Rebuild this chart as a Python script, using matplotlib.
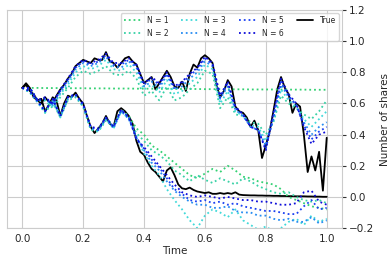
# shares held over time: true path vs. N-term approximations
import matplotlib
matplotlib.use("Agg")
import matplotlib.pyplot as plt
import numpy as np
import seaborn as sns

# time grids
t_true = np.linspace(0, 1, 81)
t_est = np.linspace(0, 1, 41)

# true paths
true_a = [0.70, 0.73, 0.70, 0.64, 0.62, 0.60, 0.64, 0.61, 0.60, 0.65,
          0.69, 0.72, 0.76, 0.79, 0.84, 0.86, 0.88, 0.87, 0.86, 0.89,
          0.88, 0.88, 0.93, 0.87, 0.86, 0.83, 0.86, 0.89, 0.90, 0.87,
          0.85, 0.79, 0.73, 0.75, 0.77, 0.69, 0.73, 0.77, 0.81, 0.77,
          0.71, 0.70, 0.74, 0.68, 0.79, 0.85, 0.83, 0.89, 0.91, 0.89,
          0.86, 0.72, 0.64, 0.68, 0.75, 0.71, 0.58, 0.55, 0.54, 0.51,
          0.45, 0.49, 0.43, 0.25, 0.33, 0.42, 0.55, 0.69, 0.77, 0.70,
          0.66, 0.54, 0.60, 0.58, 0.40, 0.16, 0.26, 0.17, 0.29, 0.04,
          0.38]
true_b = [0.70, 0.72, 0.68, 0.66, 0.62, 0.63, 0.55, 0.59, 0.64, 0.62,
          0.52, 0.60, 0.65, 0.64, 0.67, 0.63, 0.60, 0.52, 0.45, 0.41,
          0.44, 0.47, 0.52, 0.47, 0.45, 0.55, 0.57, 0.55, 0.52, 0.47,
          0.36, 0.29, 0.27, 0.22, 0.18, 0.16, 0.13, 0.10, 0.17, 0.19,
          0.14, 0.08, 0.055, 0.05, 0.06, 0.045, 0.035, 0.03, 0.025, 0.03,
          0.02, 0.02, 0.025, 0.02, 0.025, 0.02, 0.03, 0.015, 0.012, 0.011,
          0.010, 0.010, 0.009, 0.009, 0.008, 0.008, 0.007, 0.007, 0.006, 0.006,
          0.005, 0.005, 0.004, 0.004, 0.004, 0.003, 0.003, 0.002, 0.002, 0.001,
          0.001]

# approximations, path a (upper)
est_a = {
    1: [0.700, 0.700, 0.700, 0.699, 0.699, 0.699, 0.698, 0.698, 0.698, 0.697,
        0.697, 0.697, 0.696, 0.696, 0.696, 0.695, 0.695, 0.695, 0.694, 0.694,
        0.694, 0.693, 0.693, 0.693, 0.692, 0.692, 0.692, 0.691, 0.691, 0.691,
        0.690, 0.690, 0.690, 0.690, 0.689, 0.689, 0.689, 0.689, 0.688, 0.688,
        0.688],
    2: [0.70, 0.70, 0.62, 0.62, 0.57, 0.64, 0.70, 0.77, 0.81, 0.79, 0.81,
        0.84, 0.79, 0.78, 0.81, 0.76, 0.65, 0.68, 0.62, 0.71, 0.62, 0.64,
        0.69, 0.73, 0.81, 0.79, 0.57, 0.64, 0.53, 0.52, 0.48, 0.47, 0.40,
        0.48, 0.65, 0.60, 0.57, 0.53, 0.50, 0.55, 0.62],
    3: [0.70, 0.70, 0.62, 0.62, 0.58, 0.66, 0.72, 0.80, 0.84, 0.82, 0.84,
        0.88, 0.82, 0.81, 0.85, 0.80, 0.69, 0.72, 0.67, 0.75, 0.66, 0.68,
        0.73, 0.77, 0.85, 0.82, 0.60, 0.68, 0.55, 0.52, 0.46, 0.45, 0.36,
        0.49, 0.69, 0.62, 0.58, 0.50, 0.45, 0.50, 0.55],
    4: [0.70, 0.70, 0.62, 0.63, 0.59, 0.67, 0.74, 0.82, 0.86, 0.84, 0.86,
        0.90, 0.84, 0.83, 0.87, 0.83, 0.71, 0.74, 0.70, 0.78, 0.69, 0.71,
        0.76, 0.80, 0.87, 0.84, 0.63, 0.71, 0.56, 0.52, 0.45, 0.43, 0.33,
        0.50, 0.72, 0.64, 0.59, 0.48, 0.40, 0.45, 0.48],
    5: [0.70, 0.70, 0.62, 0.63, 0.60, 0.68, 0.75, 0.83, 0.87, 0.85, 0.87,
        0.91, 0.85, 0.85, 0.88, 0.84, 0.72, 0.76, 0.72, 0.79, 0.70, 0.73,
        0.78, 0.82, 0.89, 0.85, 0.64, 0.73, 0.57, 0.53, 0.45, 0.43, 0.31,
        0.52, 0.74, 0.65, 0.59, 0.46, 0.37, 0.42, 0.45],
    6: [0.70, 0.70, 0.62, 0.64, 0.60, 0.69, 0.76, 0.84, 0.88, 0.86, 0.88,
        0.92, 0.86, 0.86, 0.89, 0.85, 0.73, 0.77, 0.73, 0.80, 0.71, 0.74,
        0.79, 0.83, 0.90, 0.86, 0.65, 0.74, 0.58, 0.53, 0.45, 0.43, 0.30,
        0.54, 0.76, 0.66, 0.60, 0.45, 0.34, 0.40, 0.42],
}

# approximations, path b (lower)
est_b = {
    1: [0.70, 0.68, 0.62, 0.55, 0.62, 0.52, 0.63, 0.65, 0.59, 0.44, 0.43,
        0.50, 0.46, 0.56, 0.52, 0.44, 0.40, 0.33, 0.30, 0.26, 0.22, 0.18,
        0.14, 0.12, 0.15, 0.18, 0.16, 0.20, 0.17, 0.13, 0.12, 0.10, 0.09,
        0.08, 0.05, 0.00, -0.02, -0.04, -0.06, -0.07, -0.08],
    2: [0.70, 0.67, 0.61, 0.54, 0.61, 0.51, 0.62, 0.64, 0.58, 0.43, 0.42,
        0.49, 0.45, 0.55, 0.51, 0.41, 0.36, 0.30, 0.27, 0.23, 0.17, 0.14,
        0.10, 0.14, 0.11, 0.09, 0.12, 0.10, 0.08, 0.12, 0.10, 0.07, 0.05,
        0.03, 0.02, 0.03, 0.00, -0.02, -0.03, -0.02, -0.04],
    3: [0.70, 0.67, 0.61, 0.54, 0.62, 0.51, 0.63, 0.65, 0.58, 0.44, 0.42,
        0.50, 0.44, 0.55, 0.50, 0.39, 0.28, 0.20, 0.14, 0.05, -0.02, -0.08,
        -0.15, -0.20, -0.12, -0.08, -0.10, -0.13, -0.08, -0.15, -0.18, -0.21,
        -0.19, -0.22, -0.20, -0.16, -0.14, -0.18, -0.12, -0.16, -0.14],
    4: [0.70, 0.68, 0.61, 0.55, 0.62, 0.52, 0.63, 0.65, 0.59, 0.44, 0.43,
        0.50, 0.44, 0.55, 0.50, 0.38, 0.30, 0.22, 0.17, 0.10, 0.04, 0.00,
        -0.03, -0.05, -0.05, -0.07, -0.07, -0.06, -0.09, -0.10, -0.10, -0.12,
        -0.12, -0.14, -0.15, -0.14, -0.16, -0.16, -0.13, -0.17, -0.15],
    5: [0.70, 0.68, 0.62, 0.55, 0.63, 0.52, 0.64, 0.66, 0.59, 0.45, 0.43,
        0.51, 0.45, 0.56, 0.51, 0.38, 0.31, 0.24, 0.19, 0.12, 0.05, 0.02,
        -0.02, -0.03, -0.02, -0.04, -0.03, -0.05, -0.04, -0.06, -0.07, -0.08,
        -0.09, -0.09, -0.10, -0.11, -0.11, -0.06, -0.02, -0.08, -0.07],
    6: [0.70, 0.68, 0.62, 0.55, 0.63, 0.52, 0.64, 0.66, 0.60, 0.45, 0.44,
        0.51, 0.45, 0.56, 0.51, 0.37, 0.32, 0.26, 0.20, 0.14, 0.08, 0.03,
        0.01, 0.00, 0.01, 0.00, -0.01, 0.00, -0.01, -0.02, -0.02, -0.03,
        -0.03, -0.04, -0.05, -0.05, -0.04, 0.03, 0.04, -0.03, -0.05],
}

colors = {1: (0.20, 0.82, 0.45), 2: (0.22, 0.82, 0.65), 3: (0.25, 0.85, 0.85),
          4: (0.15, 0.55, 0.95), 5: (0.10, 0.25, 0.95), 6: (0.05, 0.05, 0.85)}

sns.set_style("whitegrid")
plt.rcParams['font.family'] = ['DejaVu Sans']

fig = plt.figure(figsize=(3.89, 2.64), dpi=100)
ax = fig.add_axes([0.018, 0.136, 0.861, 0.826])

ax.plot(t_true, true_a, color='black', lw=1.3, zorder=2, label='True')
ax.plot(t_true, true_b, color='black', lw=1.3, zorder=2)

for n in range(1, 7):
    ax.plot(t_est, est_a[n], ':', color=colors[n], lw=1.3, zorder=3, label='N = %d' % n)
    ax.plot(t_est, est_b[n], ':', color=colors[n], lw=1.3, zorder=3)

ax.set_xlim(-0.05, 1.05)
ax.set_ylim(-0.2, 1.2)
ax.set_xticks([0.0, 0.2, 0.4, 0.6, 0.8, 1.0])
ax.set_yticks([-0.2, 0.0, 0.2, 0.4, 0.6, 0.8, 1.0, 1.2])
ax.yaxis.tick_right()
ax.yaxis.set_label_position('right')
ax.tick_params(axis='y', length=3, width=0.8, color='#333333', labelsize=7.5, pad=2)
ax.tick_params(axis='x', length=0, labelsize=7.5, pad=4)
ax.set_xlabel('Time', fontsize=7.5, labelpad=2)
ax.set_ylabel('Number of shares', fontsize=7.5, labelpad=4)

handles, labels = ax.get_legend_handles_labels()
order = [1, 2, 3, 4, 5, 6, 0]
ax.legend([handles[i] for i in order], [labels[i] for i in order],
          loc='upper right', ncol=4, fontsize=5.5, borderaxespad=0.4,
          columnspacing=1.7, handlelength=2.2, frameon=True)

fig.savefig('out.png', dpi=100)
